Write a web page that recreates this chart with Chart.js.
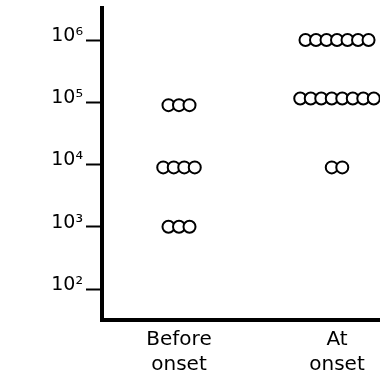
<!DOCTYPE html>
<html>
<head>
<meta charset="utf-8">
<script src="https://cdn.jsdelivr.net/npm/chart.js@4/dist/chart.umd.min.js"></script>
<style>
  html, body { margin: 0; padding: 0; background: #fff; }
  #c { display: block; }
</style>
</head>
<body>
<canvas id="c" width="380" height="371"></canvas>
<script>
// ---- data ----
const categories = [['Before', 'onset'], ['At', 'onset']];
const beforeLevels = [9e4, 9e3, 1e3];
const beforeCounts = [3, 4, 3];
const atLevels = [1e6, 1.15e5, 9e3];
const atCounts = [7, 8, 2];
const yTickValues = [1e2, 1e3, 1e4, 1e5, 1e6];

// ---- build points: each subject is one circle, stacked side by side ----
const STEP = 0.0665; // horizontal spacing between adjacent circles (x units)
function rowPoints(catIndex, levels, counts) {
  const pts = [];
  levels.forEach((lv, r) => {
    const n = counts[r];
    for (let i = 0; i < n; i++) {
      pts.push({ x: catIndex + 1 + (i - (n - 1) / 2) * STEP, y: lv });
    }
  });
  return pts;
}
const points = rowPoints(0, beforeLevels, beforeCounts)
  .concat(rowPoints(1, atLevels, atCounts));

const SUP = { 2: '\u00B2', 3: '\u00B3', 4: '\u2074', 5: '\u2075', 6: '\u2076' };
const FONT = 'DejaVu Sans';

new Chart(document.getElementById('c'), {
  type: 'scatter',
  data: {
    datasets: [{
      data: points,
      pointStyle: 'circle',
      pointRadius: 6,
      pointBorderWidth: 2,
      pointBackgroundColor: '#ffffff',
      pointBorderColor: '#000000',
      clip: false
    }]
  },
  options: {
    responsive: false,
    animation: false,
    events: [],
    layout: { autoPadding: false, padding: { top: 8, right: 0, left: 0, bottom: 0 } },
    plugins: { legend: { display: false }, tooltip: { enabled: false } },
    scales: {
      x: {
        type: 'linear',
        bounds: 'data',
        min: 0.5127,
        max: 2.272,
        afterBuildTicks: s => { s.ticks = categories.map((_, i) => ({ value: i + 1 })); },
        afterFit: s => { s.height = 51; s.paddingLeft = 0; s.paddingRight = 0; },
        ticks: {
          color: '#000',
          font: { family: FONT, size: 20, lineHeight: 1.25 },
          padding: 7,
          maxRotation: 0,
          autoSkip: false,
          callback: v => categories[Math.round(v) - 1]
        },
        grid: { drawOnChartArea: false, drawTicks: false },
        border: { display: true, color: '#000', width: 4 }
      },
      y: {
        type: 'logarithmic',
        bounds: 'data',
        min: 31.8,
        max: 3.27e6,
        afterBuildTicks: s => { s.ticks = yTickValues.map(v => ({ value: v })); },
        afterFit: s => { s.width = 102; s.paddingTop = 0; s.paddingBottom = 0; },
        ticks: {
          color: '#000',
          font: { family: FONT, size: 19 },
          padding: 3,
          labelOffset: -4,
          autoSkip: false,
          callback: v => '10' + SUP[Math.round(Math.log10(v))]
        },
        grid: {
          drawOnChartArea: false,
          drawTicks: true,
          tickLength: 16,
          tickWidth: 2,
          tickColor: '#000'
        },
        border: { display: true, color: '#000', width: 4 }
      }
    }
  }
});
</script>
</body>
</html>
